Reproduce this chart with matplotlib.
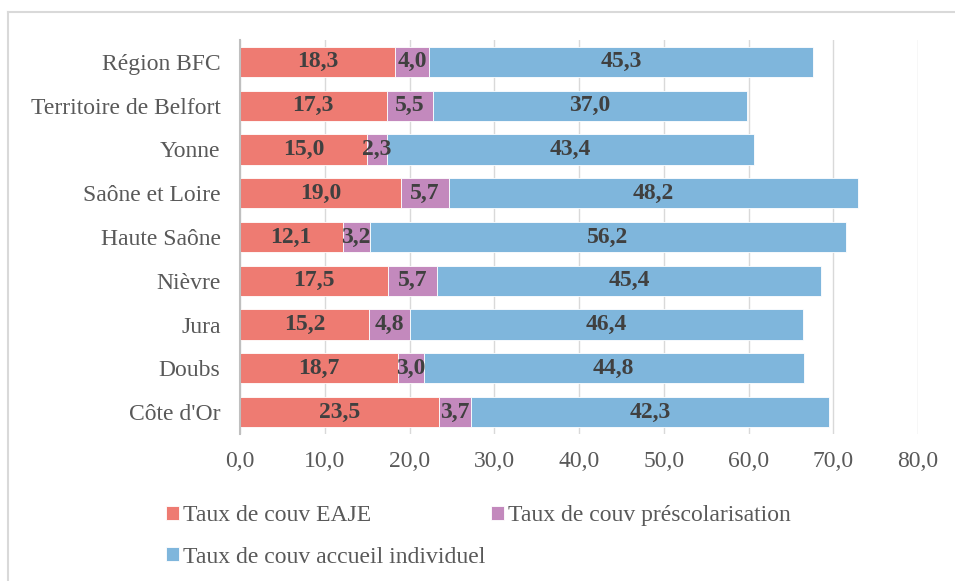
import matplotlib.pyplot as plt
from matplotlib.lines import Line2D
import numpy as np

plt.rcParams['font.family'] = ['Liberation Serif', 'DejaVu Serif']

regions = ["Région BFC", "Territoire de Belfort", "Yonne", "Saône et Loire",
           "Haute Saône", "Nièvre", "Jura", "Doubs", "Côte d'Or"]
eaje = [18.3, 17.3, 15.0, 19.0, 12.1, 17.5, 15.2, 18.7, 23.5]
presco = [4.0, 5.5, 2.3, 5.7, 3.2, 5.7, 4.8, 3.0, 3.7]
individuel = [45.3, 37.0, 43.4, 48.2, 56.2, 45.4, 46.4, 44.8, 42.3]
series_names = ["Taux de couv EAJE", "Taux de couv préscolarisation",
                "Taux de couv accueil individuel"]
xticks = np.arange(0, 81, 10)

colors = ["#EE7B72", "#C389BD", "#7FB6DC"]
txt_dark = "#404040"
txt_grey = "#595959"

fig = plt.figure(figsize=(9.55, 5.81), dpi=100)
ax = fig.add_axes([240 / 955, 1 - 434 / 581, (918 - 240) / 955, (434 - 40) / 581])

# top rows first
y = np.arange(len(regions))[::-1]
left = np.zeros(len(regions))
bars = []
for vals, col, name in zip([eaje, presco, individuel], colors, series_names):
    b = ax.barh(y, vals, left=left, height=0.69, color=col,
                edgecolor="white", linewidth=0.6, label=name, zorder=2)
    bars.append(b)
    for yi, l, v in zip(y, left, vals):
        ax.text(l + v / 2, yi, f"{v:.1f}".replace(".", ","), ha="center",
                va="center", fontsize=17, fontweight="bold", color=txt_dark,
                zorder=3)
    left = left + np.array(vals)

ax.set_xlim(0, 80)
ax.set_ylim(-0.5, len(regions) - 0.5)
ax.set_xticks(xticks)
ax.set_xticklabels([f"{t:.1f}".replace(".", ",") for t in xticks])
ax.set_yticks(y)
ax.set_yticklabels(regions)
ax.tick_params(axis="x", length=0, labelsize=17, labelcolor=txt_grey, pad=12)
ax.tick_params(axis="y", length=0, labelsize=17, labelcolor=txt_grey, pad=14)
ax.grid(axis="x", color="#D9D9D9", linewidth=1, zorder=0)
for s in ["top", "right", "bottom"]:
    ax.spines[s].set_visible(False)
ax.spines["left"].set_color("#BFBFBF")
ax.spines["left"].set_linewidth(1.5)
ax.spines["left"].set_zorder(4)

handles = [bars[0], bars[2], bars[1]]
labels = [series_names[0], series_names[2], series_names[1]]
fig.legend(handles, labels, ncol=2, loc="upper left",
           bbox_to_anchor=(157 / 955, 1 - 496 / 581), frameon=False,
           fontsize=17, labelcolor=txt_grey, handlelength=0.55,
           handleheight=0.55, handletextpad=0.15, columnspacing=0.25,
           labelspacing=0.85, borderaxespad=0)

# chart frame (top and left edges)
fig.add_artist(Line2D([8 / 955, 8 / 955], [0, 1 - 12 / 581],
                      transform=fig.transFigure, color="#D9D9D9", linewidth=1.5))
fig.add_artist(Line2D([8 / 955, 1], [1 - 12 / 581, 1 - 12 / 581],
                      transform=fig.transFigure, color="#D9D9D9", linewidth=1.5))

fig.savefig("out.png", dpi=100)
